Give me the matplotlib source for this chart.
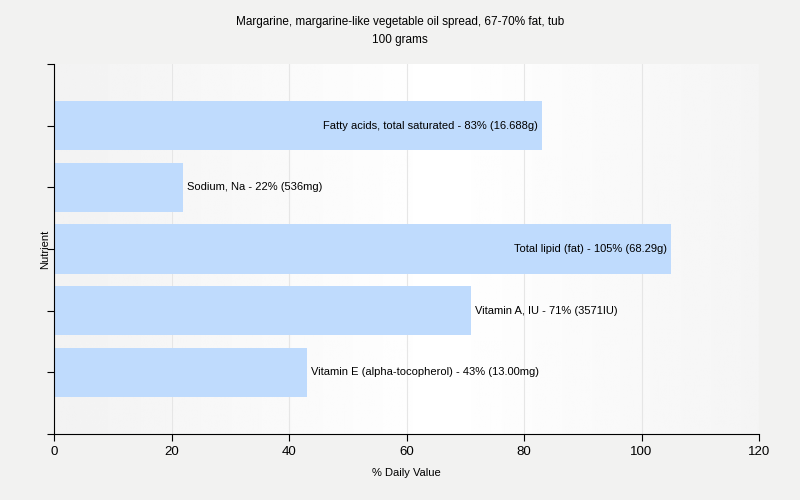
import numpy as np
import matplotlib
matplotlib.use("Agg")
import matplotlib.pyplot as plt

# data (top to bottom as shown)
nutrients = ["Fatty acids, total saturated", "Sodium, Na", "Total lipid (fat)",
             "Vitamin A, IU", "Vitamin E (alpha-tocopherol)"]
pct_dv = [83, 22, 105, 71, 43]
amounts = ["16.688g", "536mg", "68.29g", "3571IU", "13.00mg"]

plt.rcParams['font.family'] = ['Liberation Sans', 'DejaVu Sans']

fig = plt.figure(figsize=(8, 5), dpi=100)
fig.patch.set_facecolor("#f2f2f1")
ax = fig.add_axes([54/800, 66/500, 705/800, 370/500])

# gray-white-gray gradient background
xs = np.linspace(0, 1, 256)
shade = 0.95 + 0.05 * (1 - np.abs(xs - 0.55) / 0.55).clip(0, 1)
grad = np.tile(shade, (2, 1))
ax.imshow(grad, cmap="gray", vmin=0, vmax=1, aspect="auto",
          extent=[0, 1, 0, 1], transform=ax.transAxes, zorder=0)

ypos = np.arange(len(nutrients))[::-1]
ax.barh(ypos, pct_dv, height=0.8, color="#bfdbfd", zorder=2)

ax.set_xlim(0, 120)
ax.set_ylim(-1, 5)
ax.set_xticks(np.arange(0, 121, 20))
ax.set_yticks(np.arange(-1, 6))
ax.set_yticklabels([])
ax.grid(axis="x", color="#e6e6e6", linewidth=0.8, zorder=1)
ax.set_axisbelow(True)
for s in ["top", "right"]:
    ax.spines[s].set_visible(False)
ax.tick_params(axis="both", direction="out", length=5, labelsize=9.5)

fig.canvas.draw()
renderer = fig.canvas.get_renderer()
ax_right = ax.get_window_extent(renderer).x1
for y, name, v, amt in zip(ypos, nutrients, pct_dv, amounts):
    label = f"{name} - {v}% ({amt})"
    t = ax.text(v + 0.7, y, label, va="center", ha="left", fontsize=8, zorder=3)
    bb = t.get_window_extent(renderer)
    if bb.x1 > ax_right:
        t.set_position((v - 0.7, y))
        t.set_ha("right")

ax.set_xlabel("% Daily Value", fontsize=8, labelpad=7)
ax.set_ylabel("Nutrient", fontsize=8, labelpad=-6)
fig.text(0.5, 1 - 31/500,
         "Margarine, margarine-like vegetable oil spread, 67-70% fat, tub\n100 grams",
         ha="center", va="center", fontsize=8.5, linespacing=1.6)

fig.savefig("out.png", dpi=100, facecolor=fig.get_facecolor())
